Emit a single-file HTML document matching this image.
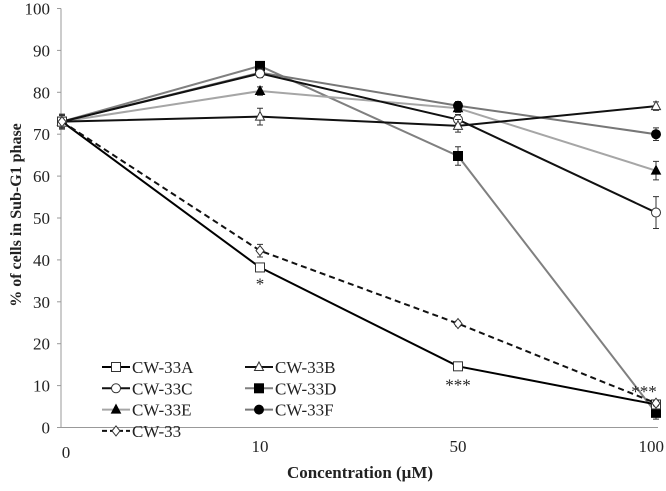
<!DOCTYPE html>
<html><head><meta charset="utf-8"><style>
body{margin:0;background:#fff}
svg text{font-family:"Liberation Serif",serif;fill:#222}
</style></head><body>
<svg id="c" width="666" height="486"></svg>
<script>
const categories=["0","10","50","100"];
const yTicks=[0,10,20,30,40,50,60,70,80,90,100];
const sA=[73,38.2,14.6,5.5];
const sB=[73,74.2,72,76.7];
const sC=[73,84.5,73.5,51.3];
const sD=[73,86.3,64.8,3.5];
const sE=[73,80.3,76.2,61.3];
const sF=[73,84.7,76.8,70];
const s33=[73,42.2,24.8,5.8];
const errA=[1.5,1,0.6,0.6];
const errB=[1.8,2,1.5,1];
const errC=[1.5,1,1.2,3.8];
const errD=[1.5,1,2.2,1.5];
const errE=[1.5,1,1,2.2];
const errF=[1.5,1,1,1.5];
const err33=[1.5,1.5,0.6,0.6];
const names=["CW-33A","CW-33B","CW-33C","CW-33D","CW-33E","CW-33F","CW-33"];
const series=[sA,sB,sC,sD,sE,sF,s33];
const errs=[errA,errB,errC,errD,errE,errF,err33];
const colors=["#000","#111","#111","#808080","#a6a6a6","#777","#111"];
const markers=["sqOpen","triOpen","circOpen","sqFill","triFill","circFill","diaOpen"];
const dashes=[null,null,null,null,null,null,"6,4"];
const svg=document.getElementById('c');
const NS="http://www.w3.org/2000/svg";
function el(t,a,p){const e=document.createElementNS(NS,t);for(const k in a)e.setAttribute(k,a[k]);(p||svg).appendChild(e);return e;}
const X0=62,XS=198,Y0=427.5,YS=4.19;
const xs=i=>X0+i*XS, ys=v=>Y0-v*YS;
let ya=el('line',{x1:61,y1:ys(100),x2:61,y2:Y0,stroke:'#999','stroke-width':1});

let xa=el('line',{x1:61,y1:Y0,x2:658,y2:Y0,stroke:'#999','stroke-width':1});

yTicks.forEach(v=>{
 el('line',{x1:57,y1:ys(v),x2:61,y2:ys(v),stroke:'#999'});
 const t=el('text',{x:50,y:ys(v)+6,'text-anchor':'end','font-size':17});t.textContent=v;
 
});
categories.forEach((c,i)=>{
 const t=el('text',{x:i==0?66:(i==3?664:xs(i)),y:i==0?458:452,'text-anchor':i==3?'end':'middle','font-size':17});t.textContent=c;
 
});
let xt=el('text',{x:360,y:478,'text-anchor':'middle','font-size':17,'font-weight':'bold'});xt.textContent="Concentration (μM)";

let yt=el('text',{x:0,y:0,'text-anchor':'middle','font-size':16,'font-weight':'bold',transform:'translate(21,215) rotate(-90)'});yt.textContent="% of cells in Sub-G1 phase";

function marker(m,x,y,col,g){
 const fill=m.endsWith('Fill')?'#000':'#fff';const sc=m.endsWith('Fill')?'#000':'#333';
 if(m.startsWith('sq'))return el('rect',{x:x-4.5,y:y-4.5,width:9,height:9,fill,stroke:sc},g);
 if(m.startsWith('circ'))return el('circle',{cx:x,cy:y,r:4.5,fill,stroke:sc},g);
 if(m.startsWith('tri'))return el('polygon',{points:`${x},${y-5} ${x+4.5},${y+3.5} ${x-4.5},${y+3.5}`,fill,stroke:sc},g);
 return el('polygon',{points:`${x},${y-5} ${x+4},${y} ${x},${y+5} ${x-4},${y}`,fill,stroke:sc},g);
}
const order=[3,4,5,2,1,0,6];
order.forEach(k=>{
 const g=el('g',{});
 
 const pts=series[k].map((v,i)=>xs(i)+','+ys(v)).join(' ');
 const a={points:pts,fill:'none',stroke:colors[k],'stroke-width':2};if(dashes[k])a['stroke-dasharray']=dashes[k];
 el('polyline',a,g);
 series[k].forEach((v,i)=>{
  const e=errs[k][i],x=xs(i);
  el('path',{d:`M${x},${ys(v+e)}V${ys(v-e)}M${x-3},${ys(v+e)}h6M${x-3},${ys(v-e)}h6`,stroke:'#333','stroke-width':1,fill:'none'},g);
  const mk=marker(markers[k],x,ys(v),colors[k],g);
  
  
 });
});
[[xs(1),ys(38.2)+22,"*"],[xs(2),ys(14.6)+24,"***"],[xs(3)-12,ys(5.8)-6,"***"]].forEach(s=>{
 const t=el('text',{x:s[0],y:s[1],'text-anchor':'middle','font-size':17});t.textContent=s[2];
 
});
const lg=el('g',{});
names.forEach((n,k)=>{
 const col=k%2,row=Math.floor(k/2);
 const x=102+col*143,y=367+row*21.3;
 const g=el('g',{},lg);
 
 const a={x1:x,y1:y,x2:x+28,y2:y,stroke:colors[k],'stroke-width':2};if(dashes[k])a['stroke-dasharray']='5,3';
 el('line',a,g);marker(markers[k],x+14,y,colors[k],g);
 const t=el('text',{x:x+30,y:y+6,'font-size':17},g);t.textContent=n;
});
</script>
</body></html>
